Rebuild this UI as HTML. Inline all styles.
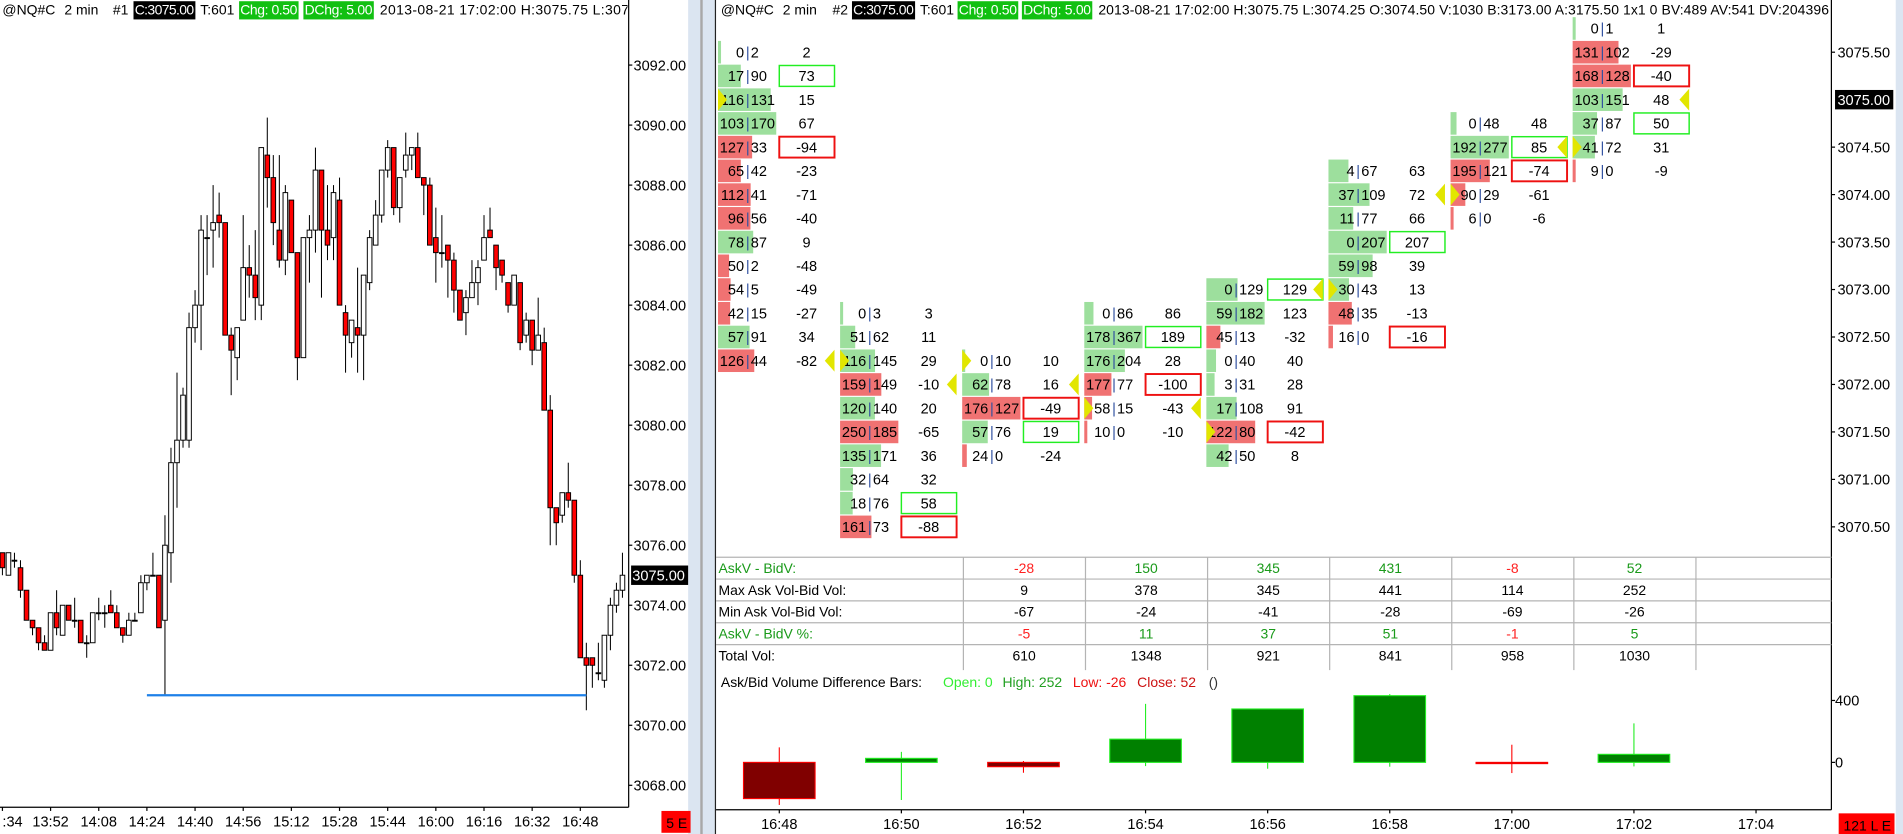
<!DOCTYPE html>
<html><head><meta charset="utf-8"><style>
html,body{margin:0;padding:0;background:#fff;overflow:hidden}
svg{display:block}
text{font-family:"Liberation Sans",Arial,sans-serif}
</style></head><body>
<svg id="s" width="1903" height="834" viewBox="0 0 1568 687" preserveAspectRatio="none" xmlns="http://www.w3.org/2000/svg">
<defs><clipPath id="lclip"><rect x="0" y="0" width="517" height="20"/></clipPath></defs>
<rect x="0" y="0" width="1568" height="687" fill="#fff"/>
<rect x="567" y="0" width="22" height="687" fill="#dbe5f1"/>
<line x1="578" y1="0" x2="578" y2="687" stroke="#a8a8a8" stroke-width="2"/>
<line x1="589.5" y1="0" x2="589.5" y2="687" stroke="#222" stroke-width="1"/>
<rect x="1562" y="0" width="6" height="687" fill="#dbe5f1"/>
<line x1="518" y1="0" x2="518" y2="665" stroke="#000" stroke-width="1"/>
<line x1="0" y1="665" x2="518" y2="665" stroke="#000" stroke-width="1"/>
<line x1="1509" y1="0" x2="1509" y2="667" stroke="#000" stroke-width="1"/>
<line x1="590" y1="667" x2="1509" y2="667" stroke="#000" stroke-width="1"/>

<g clip-path="url(#lclip)" font-size="11.5">
<text x="2" y="12">@NQ#C</text><text x="53" y="12">2 min</text><text x="93" y="12">#1</text>
<rect x="110" y="1" width="51" height="15" fill="#000"/><text x="111" y="12" fill="#fff" textLength="49">C:3075.00</text>
<text x="165" y="12">T:601</text>
<rect x="197" y="1" width="49" height="15" fill="#11c011"/><text x="198" y="12" fill="#fff" textLength="47">Chg: 0.50</text>
<rect x="250" y="1" width="58" height="15" fill="#11c011"/><text x="251" y="12" fill="#fff" textLength="56">DChg: 5.00</text>
<text x="313" y="12" textLength="212">2013-08-21 17:02:00 H:3075.75 L:3074</text>
</g>
<g font-size="11.5">
<text x="594" y="12">@NQ#C</text><text x="645" y="12">2 min</text><text x="686" y="12">#2</text>
<rect x="702" y="1" width="52" height="15" fill="#000"/><text x="703" y="12" fill="#fff" textLength="50">C:3075.00</text>
<text x="758" y="12">T:601</text>
<rect x="789" y="1" width="50" height="15" fill="#11c011"/><text x="790" y="12" fill="#fff" textLength="48">Chg: 0.50</text>
<rect x="842" y="1" width="58" height="15" fill="#11c011"/><text x="843" y="12" fill="#fff" textLength="56">DChg: 5.00</text>
<text x="905" y="12" textLength="602">2013-08-21 17:02:00 H:3075.75 L:3074.25 O:3074.50 V:1030 B:3173.00 A:3175.50 1x1 0 BV:489 AV:541 DV:204396</text>
</g>

<g font-size="11.5">
<text x="592" y="472" fill="#1a9a1a">AskV - BidV:</text>
<text x="592" y="490">Max Ask Vol-Bid Vol:</text>
<text x="592" y="508">Min Ask Vol-Bid Vol:</text>
<text x="592" y="526" fill="#1a9a1a">AskV - BidV %:</text>
<text x="592" y="544">Total Vol:</text>
</g>
<g font-size="11.5">
<text x="594" y="566">Ask/Bid Volume Difference Bars:</text>
<text x="777" y="566" fill="#33ee33">Open: 0</text>
<text x="826" y="566" fill="#22a022">High: 252</text>
<text x="884" y="566" fill="#ee1111">Low: -26</text>
<text x="937" y="566" fill="#cc1111">Close: 52</text>
<text x="996" y="566" fill="#333">()</text>
</g>
<rect x="545" y="668" width="24" height="18" fill="#ff0000"/>
<text x="549" y="682" font-size="11.5" fill="#000">5 E</text>
<rect x="1515" y="670" width="46" height="17" fill="#ff0000"/>
<text x="1519" y="684" font-size="11.5" fill="#000">121 L E</text>
<g id="dyn"></g>
</svg>
<script>
// ---- Left candlestick chart data (2-min bars, index 0 = first bar) ----
const candleOpen  = [3075.75,3075.0,3075.5,3075.25,3074.5,3073.5,3073.25,3072.75,3072.5,3073.75,3073.0,3074.0,3073.5,3073.5,3072.75,3072.75,3073.75,3073.75,3074.0,3073.75,3073.25,3073.0,3073.5,3073.75,3074.75,3075.0,3075.0,3073.5,3075.75,3078.75,3079.5,3079.5,3083.25,3084.0,3086.25,3086.5,3087.0,3086.75,3083.0,3082.25,3083.5,3085.25,3085.0,3084.0,3089.0,3088.25,3086.5,3085.5,3087.5,3085.75,3082.25,3086.25,3086.5,3088.5,3086.5,3086.25,3087.5,3083.75,3082.75,3083.25,3083.0,3084.75,3086.0,3087.0,3088.5,3089.25,3087.25,3088.5,3089.0,3089.25,3088.25,3088.0,3086.25,3085.75,3086.0,3085.5,3084.5,3083.75,3084.25,3084.75,3085.5,3086.5,3086.0,3085.5,3084.75,3084.0,3084.75,3083.0,3083.5,3082.5,3082.75,3080.5,3077.25,3077.0,3077.75,3077.5,3075.0,3072.25,3072.25,3071.75,3071.5,3073.0,3074.0,3074.5];
const candleHigh  = [3075.75,3075.75,3075.75,3075.5,3074.5,3073.5,3073.25,3073.0,3073.75,3074.5,3074.0,3074.0,3074.25,3073.5,3073.0,3073.75,3074.25,3074.0,3074.5,3074.0,3073.25,3073.75,3073.75,3075.0,3075.0,3075.75,3075.0,3077.0,3079.25,3081.75,3081.25,3083.75,3084.5,3087.0,3087.0,3088.0,3087.75,3086.75,3083.25,3083.25,3087.0,3086.0,3086.5,3089.25,3090.25,3089.0,3089.0,3088.0,3087.5,3085.75,3086.25,3087.0,3089.25,3088.5,3088.0,3088.0,3088.25,3084.0,3083.5,3085.25,3085.0,3086.5,3087.5,3088.5,3089.5,3089.25,3088.25,3089.75,3089.25,3089.75,3088.25,3088.25,3087.25,3087.0,3086.0,3085.75,3084.5,3084.5,3085.5,3085.5,3087.0,3087.25,3086.0,3085.5,3084.75,3085.0,3084.75,3083.75,3083.5,3084.25,3083.25,3081.0,3077.25,3077.75,3078.75,3077.5,3075.5,3072.75,3072.25,3072.75,3073.0,3074.25,3074.75,3075.75];
const candleLow   = [3075.0,3075.0,3075.25,3074.25,3073.5,3073.0,3072.5,3072.5,3072.5,3073.0,3073.0,3073.5,3073.25,3072.75,3072.25,3072.75,3073.5,3073.25,3073.75,3073.25,3072.75,3073.0,3073.5,3073.75,3074.5,3075.0,3073.25,3071.0,3074.75,3077.25,3079.25,3079.25,3082.75,3082.5,3085.0,3085.25,3086.25,3083.0,3081.0,3081.5,3083.5,3084.25,3083.5,3083.5,3087.25,3086.0,3085.25,3085.0,3085.75,3081.5,3082.25,3084.75,3085.75,3084.25,3085.5,3085.5,3084.0,3081.75,3082.25,3081.75,3081.5,3084.5,3086.0,3086.75,3088.25,3087.0,3086.75,3088.25,3088.5,3088.25,3087.0,3086.0,3084.75,3085.25,3084.25,3083.75,3083.5,3083.0,3084.25,3084.0,3085.5,3086.25,3084.5,3084.75,3083.75,3084.0,3082.5,3082.75,3082.0,3082.5,3080.5,3076.0,3076.0,3076.75,3077.25,3074.75,3072.25,3070.5,3071.25,3071.5,3071.25,3072.5,3073.75,3074.25];
const candleClose = [3075.25,3075.75,3075.5,3074.5,3073.5,3073.25,3072.75,3072.5,3073.75,3073.25,3074.0,3073.5,3073.5,3072.75,3072.75,3073.75,3073.75,3073.75,3073.75,3073.25,3073.0,3073.5,3073.5,3074.75,3075.0,3075.0,3073.25,3076.0,3078.75,3079.5,3081.0,3083.25,3084.0,3086.5,3086.25,3086.75,3086.75,3083.0,3082.5,3083.25,3085.25,3085.0,3084.25,3089.25,3088.25,3086.75,3085.5,3087.75,3085.75,3082.25,3086.25,3086.5,3088.5,3086.5,3086.0,3087.75,3084.0,3083.0,3083.5,3083.0,3085.0,3086.25,3087.0,3088.5,3089.25,3087.25,3088.25,3089.0,3089.25,3088.25,3088.0,3086.0,3085.75,3085.75,3085.5,3084.5,3083.5,3084.25,3084.75,3085.25,3086.25,3086.25,3085.25,3085.0,3084.0,3085.0,3082.75,3083.5,3082.5,3083.0,3080.5,3077.25,3076.75,3077.75,3077.5,3075.0,3072.25,3072.0,3072.0,3071.75,3073.0,3074.0,3074.5,3075.0];
const leftTimeLabels = [":34","13:52","14:08","14:24","14:40","14:56","15:12","15:28","15:44","16:00","16:16","16:32","16:48"];
const leftPriceTicks = [3068,3070,3072,3074,3076,3078,3080,3082,3084,3086,3088,3090,3092];
const lastPrice = 3075.00;
const supportLevel = 3071.0, supportFrom = 24, supportTo = 97;

// ---- Footprint data ----
const fpTimes = ["16:48","16:50","16:52","16:54","16:56","16:58","17:00","17:02","17:04"];
const fpTopPrice = [3075.5,3072.75,3072.25,3072.75,3073.0,3074.25,3074.75,3075.75];
const fpAsk0=[0,17,116,103,127,65,112,96,78,50,54,42,57,126], fpBid0=[2,90,131,170,33,42,41,56,87,2,5,15,91,44];
const fpAsk1=[0,51,116,159,120,250,135,32,18,161], fpBid1=[3,62,145,149,140,185,171,64,76,73];
const fpAsk2=[0,62,176,57,24], fpBid2=[10,78,127,76,0];
const fpAsk3=[0,178,176,177,58,10], fpBid3=[86,367,204,77,15,0];
const fpAsk4=[0,59,45,0,3,17,122,42], fpBid4=[129,182,13,40,31,108,80,50];
const fpAsk5=[4,37,11,0,59,30,48,16], fpBid5=[67,109,77,207,98,43,35,0];
const fpAsk6=[0,192,195,90,6], fpBid6=[48,277,121,29,0];
const fpAsk7=[0,131,168,103,37,41,9], fpBid7=[1,102,128,151,87,72,0];
const fpAsk=[fpAsk0,fpAsk1,fpAsk2,fpAsk3,fpAsk4,fpAsk5,fpAsk6,fpAsk7];
const fpBid=[fpBid0,fpBid1,fpBid2,fpBid3,fpBid4,fpBid5,fpBid6,fpBid7];
const markerCol   = [0,0,1,1,2,2,3,3,4,4,5,5,6,6,7,7];
const markerPrice = [3075.0,3072.25,3072.25,3072.0,3072.25,3072.0,3071.75,3071.75,3073.0,3071.5,3074.0,3073.0,3074.5,3074.0,3075.0,3074.5];
const markerSide  = ["L","R","L","R","L","R","L","R","R","L","R","L","R","L","R","L"];
const rightPriceTicks = [3070.5,3071.0,3071.5,3072.0,3072.5,3073.0,3073.5,3074.0,3074.5,3075.5];

// ---- Stats table (columns 16:52 .. 17:02) ----
const tblDiff  = [-28,150,345,431,-8,52];
const tblMax   = [9,378,345,441,114,252];
const tblMin   = [-67,-24,-41,-28,-69,-26];
const tblPct   = [-5,11,37,51,-1,5];
const tblTotal = [610,1348,921,841,958,1030];

// ---- Delta bars ----
const dbOpen  = [0,0,0,0,0,0,0,0];
const dbHigh  = [97,68,9,378,345,441,114,252];
const dbLow   = [-275,-243,-67,-24,-41,-28,-69,-26];
const dbClose = [-234,26,-28,150,345,431,-8,52];
const dbTicks = [0,400];

const NS="http://www.w3.org/2000/svg";
const root=document.getElementById('dyn');
function el(tag,attrs,parent,txt){const e=document.createElementNS(NS,tag);for(const k in attrs)e.setAttribute(k,attrs[k]);if(txt!==undefined)e.textContent=txt;(parent||root).appendChild(e);return e;}

// scales
const yL=p=>53.6+(3092-p)*24.72;
const xL=i=>2+i*4.96;
const yR=p=>43+(3075.5-p)/0.25*19.55;
const colLeft=c=>591.6+c*100.6;
const yV=v=>628-v*0.1275;

// left axis
const gLA=el('g',{});


leftPriceTicks.forEach(p=>{
  el('line',{x1:518,x2:521,y1:yL(p),y2:yL(p),stroke:'#000','stroke-width':1},gLA);
  const t=el('text',{x:522,y:yL(p)+4.3,'font-size':12},gLA,p.toFixed(2));
  
  
});
const lpb=el('rect',{x:520,y:yL(lastPrice)-8,width:47,height:16,fill:'#000'},gLA);


el('text',{x:521,y:yL(lastPrice)+4.3,'font-size':12,fill:'#fff'},gLA,lastPrice.toFixed(2));

const gLT=el('g',{});


leftTimeLabels.forEach((s,k)=>{
  const x=xL(k*8);
  el('line',{x1:x,x2:x,y1:665,y2:668,stroke:'#000'},gLT);
  const t=el('text',{x:x,y:681,'font-size':12,'text-anchor':k===0?'start':'middle'},gLT,s);
  
  
});

// candles
const gC=el('g',{});


for(let i=0;i<candleOpen.length;i++){
  const o=candleOpen[i],h=candleHigh[i],l=candleLow[i],c=candleClose[i],x=xL(i);
  const g=el('g',{},gC);
  
  
  el('line',{x1:x,x2:x,y1:yL(h),y2:yL(l),stroke:'#000','stroke-width':0.85},g);
  const top=yL(Math.max(o,c)),bot=yL(Math.min(o,c));
  el('rect',{x:x-1.9,y:top,width:3.8,height:Math.max(0.8,bot-top),fill:c<o?'#ff0000':'#fff',stroke:'#000','stroke-width':0.8},g);
}
const sl=el('line',{x1:xL(supportFrom),x2:xL(supportTo),y1:yL(supportLevel),y2:yL(supportLevel),stroke:'#1e80e8','stroke-width':1.8});



// right price axis
const gRA=el('g',{});


rightPriceTicks.forEach(p=>{
  el('line',{x1:1509,x2:1512,y1:yR(p),y2:yR(p),stroke:'#000'},gRA);
  const t=el('text',{x:1514,y:yR(p)+4.3,'font-size':12},gRA,p.toFixed(2));
  
  
});
const rpb=el('rect',{x:1512,y:yR(lastPrice)-8,width:48,height:16,fill:'#000'},gRA);


el('text',{x:1514,y:yR(lastPrice)+4.3,'font-size':12,fill:'#fff'},gRA,lastPrice.toFixed(2));

// footprint
const gF=el('g',{'font-size':12});


for(let c=0;c<fpAsk.length;c++){
  const gc=el('g',{},gF);
  
  
  const L=colLeft(c),A=fpAsk[c],B=fpBid[c];
  const tot=A.map((a,i)=>a+B[i]),mx=Math.max(...tot);
  const d=A.map((a,i)=>B[i]-a),dmax=Math.max(...d),dmin=Math.min(...d);
  for(let r=0;r<A.length;r++){
    const p=fpTopPrice[c]-r*0.25,y=yR(p);
    const w=Math.max(2.5,tot[r]/mx*48);
    const bar=el('rect',{x:L,y:y-9.3,width:w,height:18.6,fill:d[r]<0?'#f07272':'#9ddf9d'},gc);
    
    
    el('text',{x:L+21.5,y:y+4.3,'text-anchor':'end'},gc,String(A[r]));
    el('text',{x:L+24.5,y:y+4.3,'text-anchor':'middle',fill:'#3050a0'},gc,'|');
    el('text',{x:L+27,y:y+4.3},gc,String(B[r]));
    if(d[r]===dmax||d[r]===dmin){
      const bx=el('rect',{x:L+50.5,y:y-8.6,width:45.5,height:17.2,fill:'none',stroke:d[r]===dmax?'#22ee22':'#ee1111','stroke-width':d[r]===dmax?1.2:1.6},gc);
      
      
    }
    const dt=el('text',{x:L+73,y:y+4.3,'text-anchor':'middle'},gc,String(d[r]));
    
    
  }
}
// markers
for(let k=0;k<markerCol.length;k++){
  const L=colLeft(markerCol[k]),y=yR(markerPrice[k]);
  const pts=markerSide[k]==='L'?`${L},${y-9} ${L+7.5},${y} ${L},${y+9}`:`${L+96},${y-9} ${L+88},${y} ${L+96},${y+9}`;
  const m=el('polygon',{points:pts,fill:'#e2e600'});
  
  
}

// stats table
const gT=el('g',{'font-size':11.5});


[459,477,495,513,531].forEach(y=>el('line',{x1:590,x2:1509,y1:y,y2:y,stroke:'#b4b4b4'},gT));
for(let c=2;c<=8;c++){const x=colLeft(c)+1;el('line',{x1:x,x2:x,y1:459,y2:552,stroke:'#b4b4b4'},gT);}
const rows=[tblDiff,tblMax,tblMin,tblPct,tblTotal];
rows.forEach((arr,ri)=>{arr.forEach((v,i)=>{
  const x=colLeft(i+2)+51,y=472+ri*18;
  let f='#000';if(ri===0||ri===3)f=v<0?'#ff2020':'#1a9a1a';
  const t=el('text',{x:x,y:y,'text-anchor':'middle',fill:f},gT,String(v));
  
  
});});

// delta bars
const gD=el('g',{});


for(let c=0;c<dbClose.length;c++){
  const x=colLeft(c)+50.5,o=dbOpen[c],cl=dbClose[c],neg=cl<o;
  const g=el('g',{},gD);
  
  
  el('line',{x1:x,x2:x,y1:yV(dbHigh[c]),y2:yV(dbLow[c]),stroke:neg?'#ff0000':'#22ee22','stroke-width':0.9},g);
  const top=yV(Math.max(o,cl)),bot=yV(Math.min(o,cl));
  el('rect',{x:x-29.5,y:top,width:59,height:Math.max(1,bot-top),fill:neg?'#800000':'#008000',stroke:neg?'#ff0000':'#22ee22','stroke-width':0.9},g);
}
dbTicks.forEach(v=>{
  el('line',{x1:1509,x2:1512,y1:yV(v),y2:yV(v),stroke:'#000'});
  const t=el('text',{x:1512,y:yV(v)+4.3,'font-size':12},undefined,String(v));
  
  
});
fpTimes.forEach((s,c)=>{
  const x=colLeft(c)+50.5;
  el('line',{x1:x,x2:x,y1:667,y2:670,stroke:'#000'});
  const t=el('text',{x:x,y:683,'font-size':12,'text-anchor':'middle'},undefined,s);
  
  
});
</script>
</body></html>
